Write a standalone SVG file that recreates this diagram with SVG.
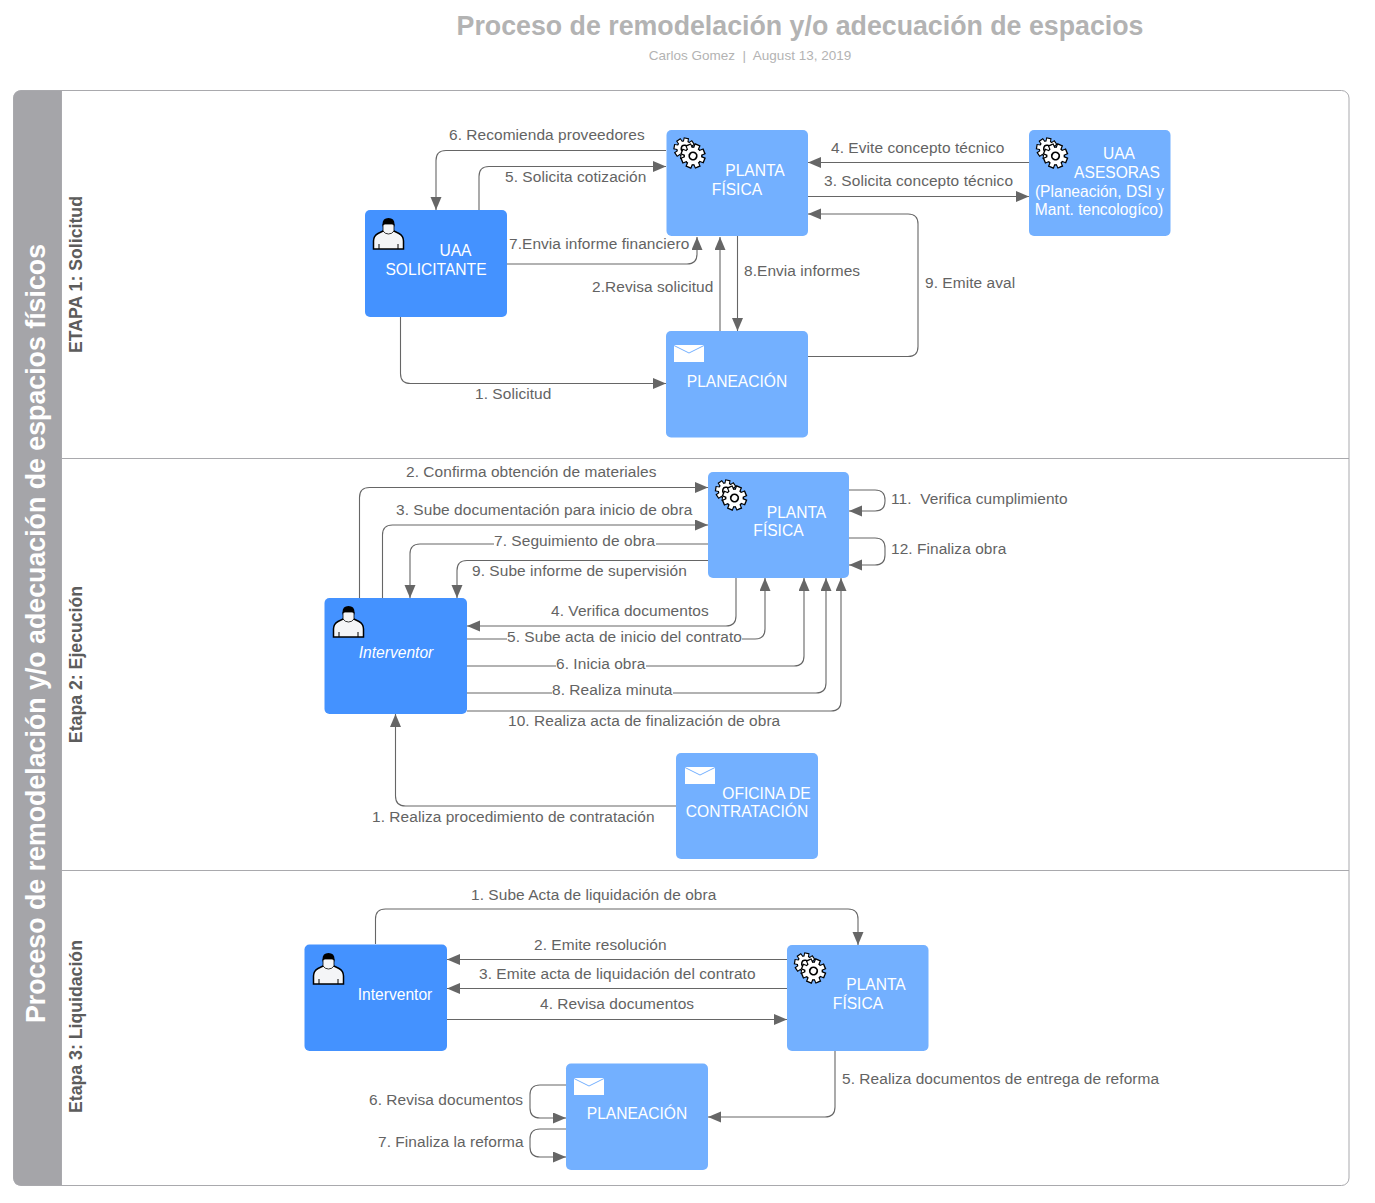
<svg xmlns="http://www.w3.org/2000/svg" width="1375" height="1203" viewBox="0 0 1375 1203">
<style>
text{font-family:"Liberation Sans",Arial,sans-serif}
.l{font-size:15.45px;fill:#636363;letter-spacing:.07px}
.n{font-size:15.6px;fill:#fff;text-anchor:middle}
.lane{font-size:17.7px;font-weight:700;fill:#5c5c5c;text-anchor:middle}
.c{fill:none;stroke:#666;stroke-width:1.1;marker-end:url(#a)}
.sw{fill:none;stroke:#a9a9ad;stroke-width:1}
.d{fill:#4492ff}.m{fill:#73b0ff}
.bg{fill:#fff}
</style>
<defs>
<marker id="a" markerUnits="userSpaceOnUse" markerWidth="14" markerHeight="12" refX="13" refY="5.5" orient="auto"><path d="M0 0L13 5.5L0 11Z" fill="#666"/></marker>
<g id="bars"><rect x="-2.700" y="-11" width="5.400" height="22"/><rect x="-2.700" y="-11" width="5.400" height="22" transform="rotate(45)"/><rect x="-2.700" y="-11" width="5.400" height="22" transform="rotate(90)"/><rect x="-2.700" y="-11" width="5.400" height="22" transform="rotate(135)"/></g>
<g id="bars2"><rect x="-1.700" y="-9.800" width="3.400" height="19.600"/><rect x="-1.700" y="-9.800" width="3.400" height="19.600" transform="rotate(45)"/><rect x="-1.700" y="-9.800" width="3.400" height="19.600" transform="rotate(90)"/><rect x="-1.700" y="-9.800" width="3.400" height="19.600" transform="rotate(135)"/></g>
<g id="gear1"><use href="#bars" fill="#000"/><circle r="8.300" fill="#000"/><use href="#bars2" fill="#fff"/><circle r="7.100" fill="#fff"/><circle r="4" fill="#000"/><circle r="2.500" fill="#fff"/></g>
<g id="gear"><use href="#gear1" transform="translate(18 18.500) rotate(10)"/><use href="#gear1" transform="translate(26.500 26) scale(1.150) rotate(22)"/></g>
<g id="person"><path d="M.5 31V23Q.5 18 5 15.500L11 12.500H20L26 15.500Q30.500 18 30.500 23V31Z" fill="#f4f5f7" stroke="#000" stroke-width="1.500"/><path d="M10 6H21V13Q19 16 15.500 16Q12 16 10 13Z" fill="#f4f5f7" stroke="#000" stroke-width=".8"/><path d="M9.500 9V6Q9.500 0 15.500 0Q21.500 0 21.500 6V9Q21 6.500 19 6H12Q10 6.500 9.500 9Z" fill="#000"/><path d="M6 31V26M25 31V26" stroke="#000"/></g>
<g id="mail"><rect width="30" height="17" fill="#fff"/><path d="M0 .5L15 8L30 .5" fill="none" stroke="#73b0ff" stroke-width="1"/></g>
</defs>
<rect width="1375" height="1203" fill="#fff"/>
<g id="title">
<text x="800" y="35" font-size="26.75" font-weight="700" fill="#b3b3b3" text-anchor="middle">Proceso de remodelación y/o adecuación de espacios</text>
<text x="750" y="60" font-size="13.5" fill="#b3b3b3" text-anchor="middle" xml:space="preserve">Carlos Gomez  |  August 13, 2019</text>
</g>
<g id="swimlane">
<path d="M61.500 90.500H21Q13.500 90.500 13.500 98V1178Q13.500 1185.500 21 1185.500H61.500Z" fill="#a5a5a9"/>
<rect x="13.500" y="90.500" width="1335.500" height="1095" rx="7.500" class="sw"/>
<path d="M61.500 90.500V1185.500M61.500 458.500H1349M61.500 870.500H1349" class="sw"/>
<text transform="translate(44.500 633.500) rotate(-90)" font-size="26.75" font-weight="700" fill="#fff" text-anchor="middle">Proceso de remodelación y/o adecuación de espacios físicos</text>
<text class="lane" transform="translate(82 274.500) rotate(-90)">ETAPA 1: Solicitud</text>
<text class="lane" transform="translate(82 664.500) rotate(-90)">Etapa 2: Ejecución</text>
<text class="lane" transform="translate(82 1026.500) rotate(-90)">Etapa 3: Liquidación</text>
</g>
<g id="connectors">
<path class="c" d="M666 150.500H446Q436 150.500 436 160.500V210"/>
<path class="c" d="M479 210V176.500Q479 166.500 489 166.500H666"/>
<path class="c" d="M507 264H687Q697 264 697 254V237"/>
<path class="c" d="M720 331V237"/>
<path class="c" d="M737.500 236V331"/>
<path class="c" d="M1029 162.500H808"/>
<path class="c" d="M808 196.500H1029"/>
<path class="c" d="M808 356.500H908Q918 356.500 918 346.500V224Q918 214 908 214H808"/>
<path class="c" d="M400.500 317V373.500Q400.500 383.500 410.500 383.500H666"/>
<path class="c" d="M359.500 598V497.500Q359.500 487.500 369.500 487.500H708"/>
<path class="c" d="M382.500 598V535Q382.500 525 392.500 525H708"/>
<path class="c" d="M708 544H420Q410 544 410 554V598"/>
<path class="c" d="M708 560.500H467Q457 560.500 457 570.500V598"/>
<path class="c" d="M736 578V616Q736 626 726 626H467"/>
<path class="c" d="M467 639H755Q765 639 765 629V578"/>
<path class="c" d="M467 666H794Q804 666 804 656V578"/>
<path class="c" d="M467 693H816Q826 693 826 683V578"/>
<path class="c" d="M467 711H831Q841 711 841 701V578"/>
<path class="c" d="M676 806H405.500Q395.500 806 395.500 796V714"/>
<path class="c" d="M849 490H875Q885 490 885 500V501Q885 511 875 511H849"/>
<path class="c" d="M849 538H875Q885 538 885 548V555Q885 565 875 565H849"/>
<path class="c" d="M375.500 944V919Q375.500 909 385.500 909H848Q858 909 858 919V945"/>
<path class="c" d="M787 959.500H447"/>
<path class="c" d="M787 988.500H447"/>
<path class="c" d="M447 1019.500H787"/>
<path class="c" d="M835 1051V1107Q835 1117 825 1117H708"/>
<path class="c" d="M566 1085H540Q530 1085 530 1095V1108Q530 1118 540 1118H566"/>
<path class="c" d="M566 1129H540Q530 1129 530 1139V1147Q530 1157 540 1157H566"/>
<rect class="bg" x="494" y="534" width="162" height="18"/>
<rect class="bg" x="507" y="630" width="235" height="18"/>
<rect class="bg" x="556" y="657" width="90" height="18"/>
<rect class="bg" x="552" y="684" width="121" height="18"/>
</g>
<g id="labels">
<text class="l" x="449" y="140">6. Recomienda proveedores</text>
<text class="l" x="505" y="182">5. Solicita cotización</text>
<text class="l" x="509" y="249">7.Envia informe financiero</text>
<text class="l" x="592" y="292">2.Revisa solicitud</text>
<text class="l" x="744" y="276">8.Envia informes</text>
<text class="l" x="831" y="153">4. Evite concepto técnico</text>
<text class="l" x="824" y="186">3. Solicita concepto técnico</text>
<text class="l" x="925" y="288">9. Emite aval</text>
<text class="l" x="475" y="399">1. Solicitud</text>
<text class="l" x="406" y="477">2. Confirma obtención de materiales</text>
<text class="l" x="396" y="515">3. Sube documentación para inicio de obra</text>
<text class="l" x="494" y="546">7. Seguimiento de obra</text>
<text class="l" x="472" y="576">9. Sube informe de supervisión</text>
<text class="l" x="551" y="615.500">4. Verifica documentos</text>
<text class="l" x="507" y="642">5. Sube acta de inicio del contrato</text>
<text class="l" x="556" y="668.500">6. Inicia obra</text>
<text class="l" x="552" y="695">8. Realiza minuta</text>
<text class="l" x="508" y="726">10. Realiza acta de finalización de obra</text>
<text class="l" x="372" y="822">1. Realiza procedimiento de contratación</text>
<text class="l" x="891" y="503.500" xml:space="preserve">11.  Verifica cumplimiento</text>
<text class="l" x="891" y="553.500">12. Finaliza obra</text>
<text class="l" x="471" y="899.500">1. Sube Acta de liquidación de obra</text>
<text class="l" x="534" y="949.500">2. Emite resolución</text>
<text class="l" x="479" y="979">3. Emite acta de liquidación del contrato</text>
<text class="l" x="540" y="1009">4. Revisa documentos</text>
<text class="l" x="842" y="1084">5. Realiza documentos de entrega de reforma</text>
<text class="l" x="369" y="1104.500">6. Revisa documentos</text>
<text class="l" x="378" y="1146.500">7. Finaliza la reforma</text>
</g>
<g id="n-solicitante"><rect class="d" x="365" y="210" width="142" height="107" rx="5"/><use href="#person" x="373" y="218"/><text class="n" x="455.500" y="256">UAA</text><text class="n" x="436" y="275">SOLICITANTE</text></g>
<g id="n-planta1"><rect class="m" x="666.500" y="130" width="141.500" height="106" rx="5"/><use href="#gear" x="666.500" y="130"/><text class="n" x="755" y="175.500">PLANTA</text><text class="n" x="737" y="194.500">FÍSICA</text></g>
<g id="n-asesoras"><rect class="m" x="1029" y="130" width="141.500" height="106" rx="5"/><use href="#gear" x="1029" y="130"/><text class="n" x="1119" y="159">UAA</text><text class="n" x="1117" y="177.500">ASESORAS</text><text class="n" x="1099.500" y="196.500">(Planeación, DSI y</text><text class="n" x="1099" y="215">Mant. tencologíco)</text></g>
<g id="n-planeacion1"><rect class="m" x="666" y="331" width="142" height="106.500" rx="5"/><use href="#mail" x="674" y="345"/><text class="n" x="737" y="386.500">PLANEACIÓN</text></g>
<g id="n-planta2"><rect class="m" x="708" y="472" width="141" height="106" rx="5"/><use href="#gear" x="708" y="472"/><text class="n" x="796.500" y="517.500">PLANTA</text><text class="n" x="778.500" y="536">FÍSICA</text></g>
<g id="n-interventor2"><rect class="d" x="324.500" y="598" width="142.500" height="116" rx="5"/><use href="#person" x="333" y="606"/><text class="n" x="396" y="658" font-style="italic">Interventor</text></g>
<g id="n-oficina"><rect class="m" x="676" y="753" width="142" height="106" rx="5"/><use href="#mail" x="685" y="767"/><text class="n" x="766.500" y="798.500">OFICINA DE</text><text class="n" x="747" y="817">CONTRATACIÓN</text></g>
<g id="n-interventor3"><rect class="d" x="304.500" y="944.500" width="142.500" height="106.500" rx="5"/><use href="#person" x="313" y="953"/><text class="n" x="395" y="1000">Interventor</text></g>
<g id="n-planta3"><rect class="m" x="787" y="945" width="141.500" height="106" rx="5"/><use href="#gear" x="787" y="945"/><text class="n" x="876" y="990">PLANTA</text><text class="n" x="858" y="1009">FÍSICA</text></g>
<g id="n-planeacion3"><rect class="m" x="566" y="1063.500" width="142" height="106.500" rx="5"/><use href="#mail" x="574" y="1078"/><text class="n" x="637" y="1119">PLANEACIÓN</text></g>
</svg>
